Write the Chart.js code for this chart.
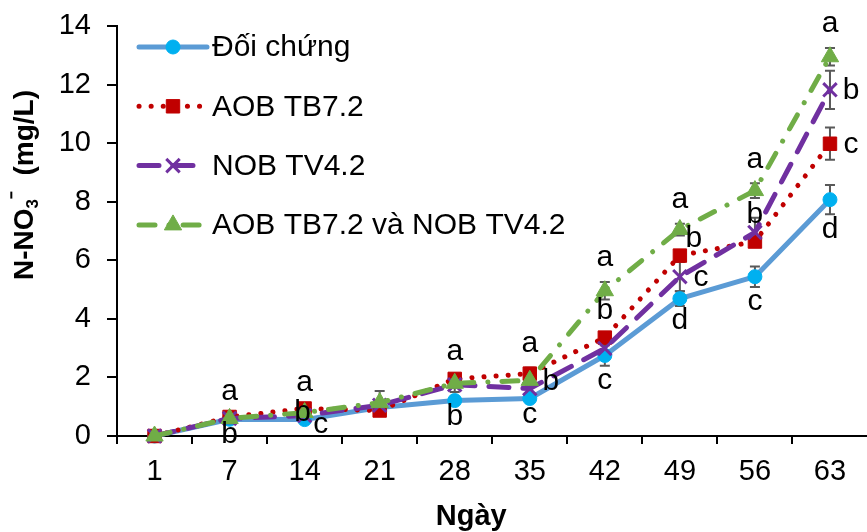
<!DOCTYPE html>
<html>
<head>
<meta charset="utf-8">
<script src="https://cdn.jsdelivr.net/npm/chart.js@4/dist/chart.umd.min.js"></script>
<style>
  html, body { margin: 0; padding: 0; background: #fff; overflow: hidden; }
  #wrap { width: 867px; height: 532px; overflow: hidden; }
</style>
</head>
<body>
<div id="wrap"><canvas id="chart" width="880" height="532"></canvas></div>
<script>
"use strict";

const DAYS = ["1", "7", "14", "21", "28", "35", "42", "49", "56", "63"];

const CONTROL = [0, 0.57, 0.56, 0.97, 1.21, 1.28, 2.75, 4.69, 5.44, 8.07];
const AOB = [0, 0.65, 0.94, 0.87, 1.95, 2.13, 3.36, 6.16, 6.64, 9.98];
const NOB = [0, 0.6, 0.7, 1.05, 1.75, 1.62, 2.99, 5.44, 6.95, 11.82];
const MIX = [0, 0.6, 0.8, 1.14, 1.8, 1.9, 4.96, 7.05, 8.38, 12.95];

const CONTROL_ERR = [0, 0.03, 0.03, 0.05, 0.05, 0.05, 0.35, 0.25, 0.35, 0.5];
const AOB_ERR = [0, 0.05, 0.05, 0.05, 0.1, 0.2, 0.1, 0.15, 0.1, 0.55];
const NOB_ERR = [0, 0.05, 0.05, 0.1, 0.1, 0.2, 0.3, 0.5, 0.5, 0.65];
const MIX_ERR = [0, 0.05, 0.05, 0.4, 0.3, 0.1, 0.3, 0.2, 0.25, 0.3];

// significance letters per series
const CONTROL_LETTERS = ["", "b", "c", "", "b", "c", "c", "d", "c", "d"];
const AOB_LETTERS = ["", "a", "a", "", "a", "a", "b", "b", "b", "c"];
const NOB_LETTERS = ["", "", "b", "", "", "", "", "c", "", "b"];
const MIX_LETTERS = ["", "", "", "", "", "b", "a", "a", "a", "a"];

const LABELS = ["Đối chứng", "AOB TB7.2", "NOB TV4.2", "AOB TB7.2 và NOB TV4.2"];
const Y_TICKS = [0, 2, 4, 6, 8, 10, 12, 14];

// where each letter sits relative to its point
const CONTROL_PLACE = ["", "below", "lowright", "", "below", "below", "below", "below", "below", "below"];
const AOB_PLACE = ["", "above", "above", "", "above", "above", "above", "upright", "above", "right"];
const NOB_PLACE = ["", "", "center", "", "", "", "", "right", "", "right"];
const MIX_PLACE = ["", "", "", "", "", "right", "above", "above", "above", "above"];

const FONT = "'Liberation Sans', Arial, sans-serif";
const GREY = "#595959";

Chart.defaults.font.family = FONT;
Chart.defaults.font.size = 29;
Chart.defaults.color = "#000";

function series(label, data, errors, letters, places, style) {
  return Object.assign({
    label, data, errors, letters, places,
    tension: 0,
    borderCapStyle: "round",
    borderJoinStyle: "round",
    clip: false,
  }, style);
}

const datasets = [
  series(LABELS[0], CONTROL, CONTROL_ERR, CONTROL_LETTERS, CONTROL_PLACE, {
    borderColor: "#5B9BD5", borderWidth: 5, borderDash: [],
    pointStyle: "circle", pointRadius: 7, pointBorderWidth: 1,
    pointBackgroundColor: "#00B0F0", pointBorderColor: "#00B0F0", order: 4,
  }),
  series(LABELS[1], AOB, AOB_ERR, AOB_LETTERS, AOB_PLACE, {
    borderColor: "#C00000", borderWidth: 5, borderDash: [0.1, 12],
    pointStyle: "rect", pointRadius: 9.5, pointBorderWidth: 1,
    pointBackgroundColor: "#C00000", pointBorderColor: "#C00000", order: 3,
  }),
  series(LABELS[2], NOB, NOB_ERR, NOB_LETTERS, NOB_PLACE, {
    borderColor: "#7030A0", borderWidth: 5, borderDash: [20, 14],
    pointStyle: "crossRot", pointRadius: 9.5, pointBorderWidth: 3,
    pointBackgroundColor: "#7030A0", pointBorderColor: "#7030A0", order: 2,
  }),
  series(LABELS[3], MIX, MIX_ERR, MIX_LETTERS, MIX_PLACE, {
    borderColor: "#70AD47", borderWidth: 5, borderDash: [16, 14, 0.1, 14],
    pointStyle: "triangle", pointRadius: 10, pointBorderWidth: 1,
    pointBackgroundColor: "#70AD47", pointBorderColor: "#70AD47", order: 1,
  }),
];

const errorBars = {
  id: "errorBars",
  beforeDatasetsDraw(chart) {
    const { ctx } = chart;
    const y = chart.scales.y;
    ctx.save();
    ctx.strokeStyle = GREY;
    ctx.lineWidth = 2;
    chart.data.datasets.forEach((ds, di) => {
      const meta = chart.getDatasetMeta(di);
      ds.errors.forEach((e, i) => {
        if (!e) return;
        const x = meta.data[i].x;
        const top = y.getPixelForValue(ds.data[i] + e);
        const bot = y.getPixelForValue(ds.data[i] - e);
        ctx.beginPath();
        ctx.moveTo(x, top); ctx.lineTo(x, bot);
        ctx.moveTo(x - 5, top); ctx.lineTo(x + 5, top);
        ctx.moveTo(x - 5, bot); ctx.lineTo(x + 5, bot);
        ctx.stroke();
      });
    });
    ctx.restore();
  },
};

function letterPos(place, x, y, top, bot) {
  if (place === "above") return [x, top - 24];
  if (place === "below") return [x, bot + 15];
  if (place === "right") return [x + 21, y + 1];
  if (place === "upright") return [x + 14, y - 17];
  if (place === "lowright") return [x + 16, y + 5];
  return [x - 2, y - 3];
}

const letters = {
  id: "letters",
  afterDatasetsDraw(chart) {
    const { ctx } = chart;
    const y = chart.scales.y;
    ctx.save();
    ctx.font = `30px ${FONT}`;
    ctx.fillStyle = "#000";
    ctx.textAlign = "center";
    ctx.textBaseline = "middle";
    chart.data.datasets.forEach((ds, di) => {
      const meta = chart.getDatasetMeta(di);
      ds.letters.forEach((t, i) => {
        if (!t) return;
        const p = meta.data[i];
        const e = ds.errors[i];
        const [lx, ly] = letterPos(ds.places[i], p.x, p.y,
          y.getPixelForValue(ds.data[i] + e), y.getPixelForValue(ds.data[i] - e));
        ctx.fillText(t, lx, ly);
      });
    });
    ctx.restore();
  },
};

const legendBox = {
  id: "legendBox",
  afterDraw(chart) {
    const { ctx, chartArea } = chart;
    const x0 = chartArea.left + 22;
    const len = 68;
    chart.data.datasets.forEach((ds, i) => {
      const yy = chartArea.top + 21 + i * 59.3;
      ctx.save();
      ctx.strokeStyle = ds.borderColor;
      ctx.lineWidth = ds.borderWidth;
      ctx.lineCap = "round";
      ctx.setLineDash(ds.borderDash);
      ctx.beginPath();
      ctx.moveTo(x0, yy);
      ctx.lineTo(x0 + len, yy);
      ctx.stroke();
      ctx.restore();

      ctx.save();
      ctx.fillStyle = ds.pointBackgroundColor;
      ctx.strokeStyle = ds.pointBorderColor;
      ctx.lineWidth = ds.pointBorderWidth;
      Chart.helpers.drawPoint(ctx, {
        pointStyle: ds.pointStyle, radius: ds.pointRadius,
        borderWidth: ds.pointBorderWidth, rotation: 0,
      }, x0 + len / 2, yy);
      ctx.restore();

      ctx.save();
      ctx.font = `30px ${FONT}`;
      ctx.fillStyle = "#000";
      ctx.textAlign = "left";
      ctx.textBaseline = "middle";
      ctx.fillText(ds.label, x0 + len + 5, yy + 1);
      ctx.restore();
    });
  },
};

const axisTitles = {
  id: "axisTitles",
  afterDraw(chart) {
    const { ctx, chartArea } = chart;
    ctx.save();
    ctx.fillStyle = "#000";
    ctx.font = `bold 29px ${FONT}`;
    ctx.textAlign = "center";
    ctx.textBaseline = "middle";
    ctx.fillText("Ngày", (chartArea.left + chartArea.right) / 2 - 21, 517);
    ctx.restore();

    // rotated y title with subscript / superscript
    const parts = [
      { t: "N-NO", size: 28, dy: 0 },
      { t: "3", size: 17, dy: 5 },
      { t: "⁻", size: 23, dy: -8 },
      { t: "  (mg/L)", size: 28, dy: 0 },
    ];
    ctx.save();
    ctx.translate(23, 185);
    ctx.rotate(-Math.PI / 2);
    ctx.fillStyle = "#000";
    ctx.textBaseline = "alphabetic";
    ctx.textAlign = "left";
    let total = 0;
    parts.forEach(p => {
      ctx.font = `bold ${p.size}px ${FONT}`;
      p.w = ctx.measureText(p.t).width;
      total += p.w;
    });
    let x = -total / 2;
    parts.forEach(p => {
      ctx.font = `bold ${p.size}px ${FONT}`;
      ctx.fillText(p.t, x, 10 + p.dy);
      x += p.w;
    });
    ctx.restore();
  },
};

new Chart(document.getElementById("chart"), {
  type: "line",
  data: { labels: DAYS, datasets },
  options: {
    responsive: false,
    animation: false,
    events: [],
    layout: { padding: { top: 26, right: 9, left: 0, bottom: 0 } },
    plugins: { legend: { display: false }, tooltip: { enabled: false } },
    scales: {
      x: {
        type: "category",
        offset: true,
        afterFit: s => { s.height = 96; },
        grid: { offset: true, drawOnChartArea: false, drawTicks: true, tickLength: 8, color: "#000", lineWidth: 2 },
        border: { display: true, color: "#000", width: 2 },
        ticks: { color: "#000", padding: 11, maxRotation: 0, autoSkip: false, font: { size: 29 } },
      },
      y: {
        min: 0,
        max: 14,
        afterFit: s => { s.width = 117; s.paddingTop = 0; s.paddingBottom = 0; },
        afterBuildTicks: s => { s.ticks = Y_TICKS.map(v => ({ value: v })); },
        grid: { drawOnChartArea: false, drawTicks: true, tickLength: 10, color: "#000", lineWidth: 2 },
        border: { display: true, color: "#000", width: 2 },
        ticks: { color: "#000", padding: 16, font: { size: 29 } },
      },
    },
  },
  plugins: [errorBars, letters, legendBox, axisTitles],
});
</script>
</body>
</html>
